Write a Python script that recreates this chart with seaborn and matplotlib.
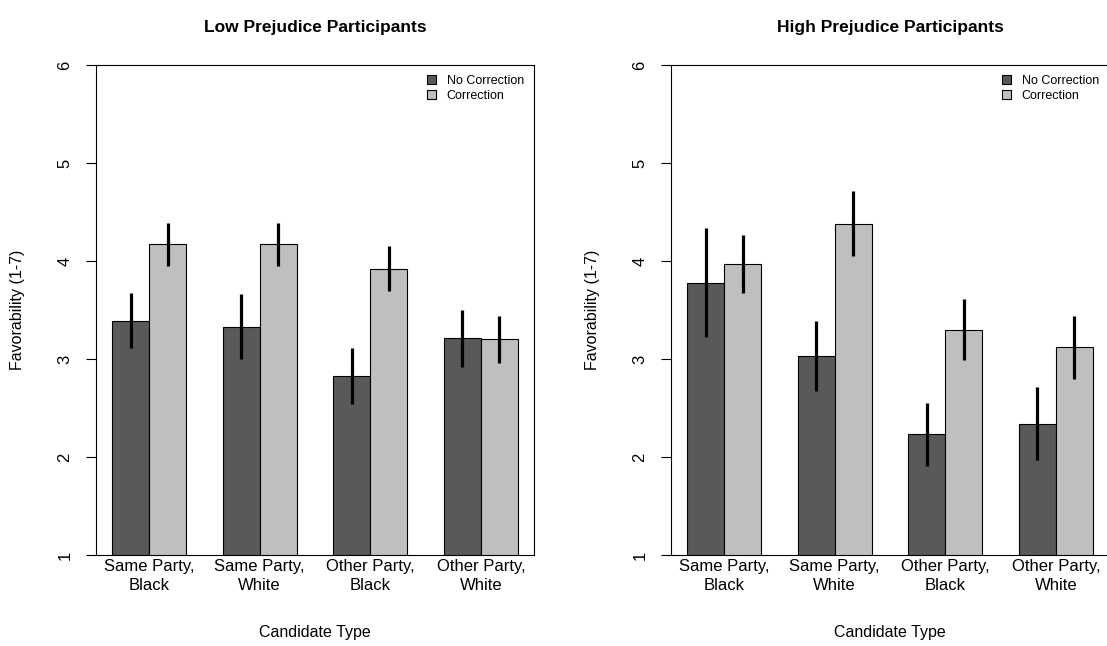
import pandas as pd
import numpy as np
import seaborn as sns
import matplotlib.pyplot as plt
from matplotlib.patches import Patch

candidate_types = ['Same Party,\nBlack', 'Same Party,\nWhite', 'Other Party,\nBlack', 'Other Party,\nWhite']
conditions = ['No Correction', 'Correction']

# means (low / high prejudice)
low_no_corr = [3.39, 3.33, 2.83, 3.21]
low_corr = [4.17, 4.17, 3.92, 3.20]
low_no_corr_err = [0.28, 0.33, 0.285, 0.29]
low_corr_err = [0.22, 0.22, 0.23, 0.24]

high_no_corr = [3.78, 3.03, 2.23, 2.34]
high_corr = [3.97, 4.38, 3.30, 3.12]
high_no_corr_err = [0.56, 0.355, 0.325, 0.37]
high_corr_err = [0.30, 0.33, 0.315, 0.32]

titles = ['Low Prejudice Participants', 'High Prejudice Participants']
colors = ['#595959', '#BFBFBF']

def make_df(no_corr, corr, no_err, c_err):
    rows = []
    for i, ct in enumerate(candidate_types):
        rows.append({'Candidate': ct, 'Condition': 'No Correction', 'Mean': no_corr[i], 'SE': no_err[i]})
        rows.append({'Candidate': ct, 'Condition': 'Correction', 'Mean': corr[i], 'SE': c_err[i]})
    return pd.DataFrame(rows)

panels = [make_df(low_no_corr, low_corr, low_no_corr_err, low_corr_err),
          make_df(high_no_corr, high_corr, high_no_corr_err, high_corr_err)]

sns.set_style('white')
plt.rcParams['font.family'] = ['Liberation Sans', 'DejaVu Sans']
plt.rcParams['text.color'] = 'black'
plt.rcParams['axes.labelcolor'] = 'black'
plt.rcParams['xtick.color'] = 'black'
plt.rcParams['ytick.color'] = 'black'

W, H = 1107, 646
fig = plt.figure(figsize=(W / 100, H / 100), dpi=100)
lefts = [96, 671]

for k, df in enumerate(panels):
    ax = fig.add_axes([lefts[k] / W, (H - 555) / H, 438 / W, 490 / H])
    sns.barplot(data=df, x='Candidate', y='Mean', hue='Condition',
                order=candidate_types, hue_order=conditions,
                palette=colors, width=2 / 3, errorbar=None,
                edgecolor='black', linewidth=0.8, saturation=1, ax=ax)

    # error bars, matched to bar centres
    bar_containers = list(ax.containers)
    for hi, cont in enumerate(bar_containers):
        sub = df[df['Condition'] == conditions[hi]].set_index('Candidate')
        for bar in cont:
            xc = bar.get_x() + bar.get_width() / 2
            cat = candidate_types[int(round(xc))]
            ax.errorbar(xc, sub.loc[cat, 'Mean'], yerr=sub.loc[cat, 'SE'],
                        fmt='none', ecolor='black', elinewidth=2.3, capsize=0, zorder=5)

    ax.set_ylim(1, 6)
    ax.set_xlim(-0.48, 3.48)
    ax.set_yticks([1, 2, 3, 4, 5, 6])
    ax.set_yticklabels(['1', '2', '3', '4', '5', '6'], rotation=90, va='center', fontsize=12)
    ax.tick_params(axis='y', direction='out', length=7, width=0.8, pad=10, left=True)
    ax.tick_params(axis='x', length=0, pad=3, labelsize=12)
    for lbl in ax.get_xticklabels():
        lbl.set_linespacing(1.35)
    for s in ax.spines.values():
        s.set_visible(True)
        s.set_color('black')
        s.set_linewidth(0.8)

    ax.set_title(titles[k], fontweight='bold', fontsize=12.5, pad=24)
    ax.set_xlabel('Candidate Type', fontsize=11.5, va='center')
    ax.set_ylabel('Favorability (1-7)', fontsize=11.5, va='center')
    ax.xaxis.set_label_coords(0.5, -(632 - 555) / 490)
    ax.yaxis.set_label_coords((18 - 96) / 438, 0.5)

    handles = [Patch(facecolor=c, edgecolor='black', linewidth=0.8) for c in colors]
    ax.legend(handles, conditions, loc='upper right', frameon=False, fontsize=9,
              handlelength=0.7, handleheight=0.7, handletextpad=0.9,
              labelspacing=0.25, borderaxespad=0.4)

fig.savefig('out.png', dpi=100)
